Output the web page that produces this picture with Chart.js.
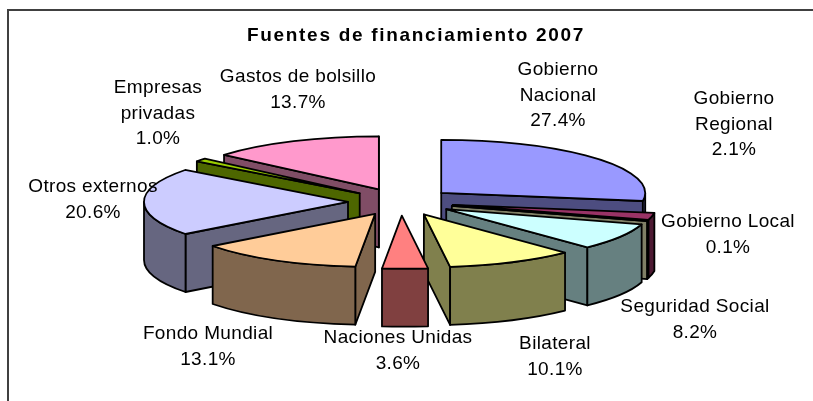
<!DOCTYPE html>
<html><head><meta charset="utf-8">
<style>html,body{margin:0;padding:0;background:#fff}#w{position:relative;width:813px;height:401px;overflow:hidden}
#f{position:absolute;left:7px;top:9px;width:810px;height:400px;border:2px solid #404040;box-sizing:border-box}
canvas{position:absolute;left:0;top:0}</style>
<script src="https://cdn.jsdelivr.net/npm/chart.js@4"></script></head>
<body><div id="w"><div id="f"></div><canvas id="c" width="813" height="401"></canvas></div>
<script>
const chartTitle = "Fuentes de financiamiento 2007";
const categories = ["Gobierno Nacional","Gobierno Regional","Gobierno Local","Seguridad Social","Bilateral","Naciones Unidas","Fondo Mundial","Otros externos","Empresas privadas","Gastos de bolsillo"];
const shares = [27.4,2.1,0.1,8.2,10.1,3.6,13.1,20.6,1.0,13.7];
const labelLines = [["Gobierno","Nacional"],["Gobierno","Regional"],["Gobierno Local"],["Seguridad Social"],["Bilateral"],["Naciones Unidas"],["Fondo Mundial"],["Otros externos"],["Empresas","privadas"],["Gastos de bolsillo"]];
const topColors = ["#9999FF","#993366","#FFFFCC","#CCFFFF","#FFFF99","#FF8080","#FFCC99","#CCCCFF","#99CC00","#FF99CC"];
const sideColors = ["#4D4D80","#4D1A33","#808066","#668080","#80804D","#804040","#80664D","#666680","#4D6600","#804D66"];
const labelAnchors = [[558,70],[734,99],[728,222],[695,307],[555,344],[398,338],[208,334],[93,187],[158,88],[298,77]];

const TILT = 0.26, DEPTH = 58, PIE_DX = -15, PIE_DY = -14, EXPLODE = 53, LINE_STEP = 25.5;
const LABEL_FONT = '19px "Liberation Sans", Arial, sans-serif';

const pie3d = {
  id:'pie3d',
  beforeDraw(chart){ chart.ctx.letterSpacing = '1.7px'; },
  beforeDatasetsDraw(chart){
    const ctx = chart.ctx, meta = chart.getDatasetMeta(0);
    ctx.letterSpacing = '0px';
    const order = meta.data.map((a,i)=>i).sort((p,q)=>{
      const m = i=>{const a=meta.data[i];return Math.sin((a.startAngle+a.endAngle)/2)};
      return m(p)-m(q);
    });
    for(const i of order){
      const a = meta.data[i];
      const r = a.outerRadius, s = a.startAngle, e = a.endAngle, mid=(s+e)/2;
      const ox = PIE_DX + Math.cos(mid)*EXPLODE, oy = PIE_DY + Math.sin(mid)*EXPLODE*TILT;
      const ax = a.x + ox, ay = a.y + oy;
      const pt = t=>[ax+r*Math.cos(t), ay+r*TILT*Math.sin(t)];
      ctx.save();
      ctx.lineWidth = 1.8; ctx.strokeStyle = '#000'; ctx.lineJoin='round';
      ctx.fillStyle = sideColors[i];
      const wall = t=>{
        const p = pt(t);
        ctx.beginPath(); ctx.moveTo(ax,ay); ctx.lineTo(p[0],p[1]);
        ctx.lineTo(p[0],p[1]+DEPTH); ctx.lineTo(ax,ay+DEPTH); ctx.closePath();
        ctx.fill(); ctx.stroke();
      };
      if(Math.cos(s)<0) wall(s);
      if(Math.cos(e)>0) wall(e);
      const norm = t=>{let v=t%(2*Math.PI); if(v<0) v+=2*Math.PI; return v;};
      let lo = norm(s), hi = lo+(e-s);
      for(const k of [0,2*Math.PI]){
        const from=Math.max(lo,k), to=Math.min(hi,k+Math.PI);
        if(to>from){
          ctx.beginPath();
          ctx.ellipse(ax,ay,r,r*TILT,0,from,to,false);
          ctx.ellipse(ax,ay+DEPTH,r,r*TILT,0,to,from,true);
          ctx.closePath(); ctx.fill(); ctx.stroke();
        }
      }
      ctx.save();
      ctx.translate(ox,ay); ctx.scale(1,TILT); ctx.translate(0,-a.y);
      a.draw(ctx);
      ctx.restore();
      ctx.beginPath(); ctx.moveTo(ax,ay);
      ctx.ellipse(ax,ay,r,r*TILT,0,s,e,false); ctx.closePath(); ctx.stroke();
      ctx.restore();
    }
    return false;
  },
  afterDraw(chart){
    const ctx = chart.ctx;
    ctx.save(); ctx.letterSpacing='0.35px'; ctx.font = LABEL_FONT; ctx.fillStyle='#000'; ctx.textAlign='center'; ctx.textBaseline='middle';
    categories.forEach((c,i)=>{
      const lines = labelLines[i].concat([shares[i].toFixed(1)+'%']);
      lines.forEach((t,j)=>ctx.fillText(t,labelAnchors[i][0],labelAnchors[i][1]+j*LINE_STEP));
    });
    ctx.restore();
  }
};

new Chart(document.getElementById('c'),{
  type:'doughnut',
  data:{labels:categories,datasets:[{data:shares,backgroundColor:topColors,borderWidth:0}]},
  options:{
    responsive:false,animation:false,cutout:0,radius:204,rotation:0,
    layout:{padding:{left:19,right:0,top:0,bottom:0}},
    events:[],
    plugins:{legend:{display:false},tooltip:{enabled:false},
      title:{display:true,text:chartTitle,color:'#000',font:{family:'"Liberation Sans", Arial, sans-serif',size:19,weight:'bold'},padding:{top:24,bottom:-16}}}
  },
  plugins:[pie3d]
});
</script></body></html>
